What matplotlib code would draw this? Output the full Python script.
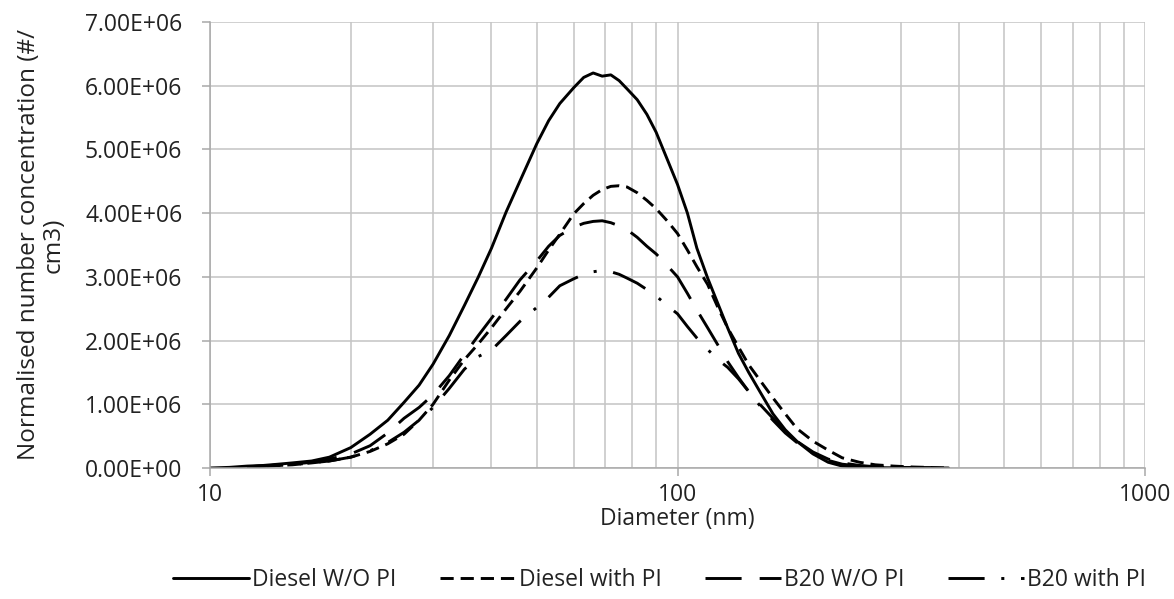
import matplotlib
matplotlib.use("Agg")
import matplotlib.pyplot as plt
from matplotlib.ticker import FuncFormatter, LogLocator, NullFormatter
import numpy as np

plt.rcParams['font.family'] = ['Open Sans', 'DejaVu Sans']
plt.rcParams['lines.scale_dashes'] = False

nan = np.nan

# diameter bins (nm)
diameter = [10, 11, 12, 13, 14, 15, 16.5, 18, 20, 22, 24, 26, 28, 30, 32.5, 35, 37.5,
            40, 43, 46, 50, 53, 56, 60, 63, 66, 69, 72, 75, 78, 82, 86, 90, 95, 100,
            105, 110, 116, 122, 128, 135, 142, 150, 160, 170, 180, 195, 210, 225, 245,
            265, 290, 320, 350, 380]

# normalised number concentration, units of 1E+06 #/cm3
diesel_wo_pi = [0.0, 0.01, 0.03, 0.04, 0.06, 0.08, 0.11, 0.17, 0.32, 0.53, 0.75, 1.03,
                1.30, 1.63, 2.08, 2.55, 3.00, 3.45, 4.02, 4.50, 5.09, 5.45, 5.72, 5.97,
                6.13, 6.20, 6.15, 6.17, 6.08, 5.95, 5.78, 5.55, 5.27, 4.85, 4.45, 4.00,
                3.45, 2.98, 2.58, 2.20, 1.80, 1.50, 1.20, 0.85, 0.60, 0.42, 0.22, 0.09,
                0.03, 0.01, 0.005, 0.003, 0.002, 0.001, 0.0]
diesel_with_pi = [nan, nan, 0.02, 0.03, 0.04, 0.05, 0.08, 0.11, 0.17, 0.26, 0.38, 0.53,
                  0.75, 1.00, 1.38, 1.70, 1.95, 2.20, 2.50, 2.77, 3.14, 3.42, 3.67, 3.99,
                  4.15, 4.28, 4.37, 4.42, 4.43, 4.41, 4.32, 4.20, 4.07, 3.88, 3.68, 3.42,
                  3.16, 2.88, 2.52, 2.20, 1.90, 1.62, 1.38, 1.10, 0.85, 0.62, 0.42, 0.28,
                  0.16, 0.09, 0.05, 0.03, 0.015, 0.008, 0.0]
b20_wo_pi = [nan, nan, 0.02, 0.03, 0.05, 0.06, 0.09, 0.14, 0.22, 0.35, 0.55, 0.78,
             0.95, 1.15, 1.45, 1.78, 2.08, 2.35, 2.65, 2.95, 3.25, 3.48, 3.65, 3.78,
             3.84, 3.87, 3.88, 3.85, 3.80, 3.74, 3.62, 3.48, 3.36, 3.18, 3.00, 2.74,
             2.48, 2.20, 1.93, 1.67, 1.42, 1.20, 1.00, 0.78, 0.58, 0.42, 0.25, 0.14,
             0.08, 0.04, 0.02, 0.01, 0.005, 0.002, nan]
b20_with_pi = [nan, nan, 0.02, 0.03, 0.04, 0.05, 0.08, 0.11, 0.17, 0.27, 0.40, 0.56,
               0.75, 0.95, 1.25, 1.55, 1.75, 1.85, 2.08, 2.30, 2.52, 2.68, 2.86, 2.97,
               3.04, 3.08, 3.10, 3.08, 3.04, 2.98, 2.90, 2.80, 2.70, 2.55, 2.42, 2.22,
               2.04, 1.86, 1.70, 1.58, 1.40, 1.20, 0.98, 0.75, 0.55, 0.40, 0.23, 0.12,
               0.06, 0.03, 0.015, 0.008, 0.004, 0.002, nan]

series = [
    ("Diesel W/O PI", diesel_wo_pi, "-"),
    ("Diesel with PI", diesel_with_pi, (0, (9.5, 5))),
    ("B20 W/O PI", b20_wo_pi, (0, (26, 13))),
    ("B20 with PI", b20_with_pi, (0, (26, 12, 2.2, 12))),
]

fig = plt.figure(figsize=(11.74, 5.99), dpi=100)
ax = fig.add_axes([0.1789, 0.2187, 0.9753 - 0.1789, 0.9633 - 0.2187])

d = np.array(diameter)
for name, vals, ls in series:
    ax.plot(d, np.array(vals) * 1e6, color="black", lw=2.1, linestyle=ls,
            label=name, solid_capstyle="round")

ax.set_xscale("log")
ax.set_xlim(10, 1000)
ax.set_ylim(0, 7e6)
ax.set_yticks(np.arange(0, 7.01e6, 1e6))
ax.yaxis.set_major_formatter(FuncFormatter(lambda v, p: f"{v:.2E}"))
ax.xaxis.set_major_formatter(FuncFormatter(lambda v, p: f"{v:g}"))
ax.xaxis.set_minor_locator(LogLocator(base=10, subs=np.arange(2, 10)))
ax.xaxis.set_minor_formatter(NullFormatter())

gc = "#c4c4c4"
ax.grid(True, which="major", color=gc, lw=1.1)
ax.grid(True, which="minor", axis="x", color=gc, lw=1.1)
ax.set_axisbelow(True)
for s in ["top", "right"]:
    ax.spines[s].set_visible(False)
for s in ["left", "bottom"]:
    ax.spines[s].set_color("#a8a8a8")
    ax.spines[s].set_linewidth(1.1)
ax.tick_params(axis="both", which="major", length=6, width=1.1, color="#a8a8a8",
               labelsize=16.5, labelcolor="#222222")
ax.tick_params(axis="y", which="major", pad=14)
ax.tick_params(axis="x", which="major", pad=5)
ax.tick_params(axis="x", which="minor", length=0)

ax.set_xlabel("Diameter (nm)", fontsize=16.5, color="#222222", labelpad=0)
ax.set_ylabel("Normalised number concentration (#/\ncm3)", fontsize=17.5,
              color="#222222", labelpad=14, linespacing=1.0)

fig.legend(loc="lower center", bbox_to_anchor=(0.562, -0.022), ncol=4, frameon=False,
           fontsize=16.5, handlelength=3.3, handletextpad=0.15, columnspacing=1.9,
           labelcolor="#222222")

fig.savefig("out.png", dpi=100)
